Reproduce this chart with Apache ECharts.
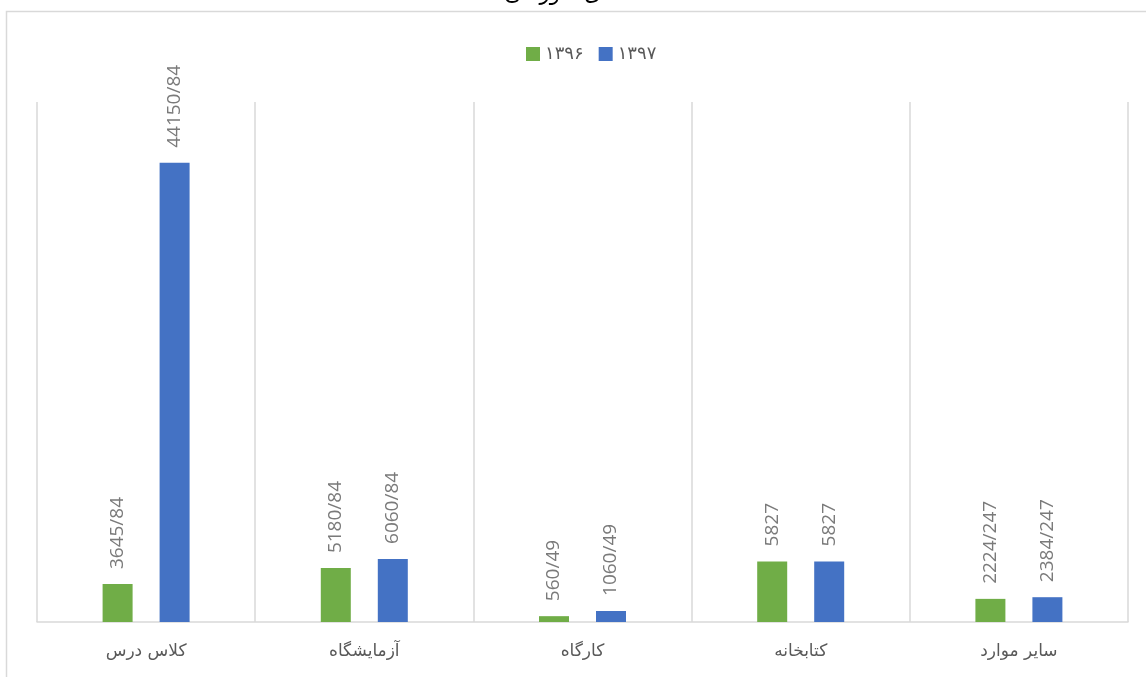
<!DOCTYPE html>
<html>
<head>
<meta charset="utf-8">
<script src="https://cdn.jsdelivr.net/npm/echarts@6/dist/echarts.min.js"></script>
<style>
html,body{margin:0;padding:0;background:#fff;}
#c{width:1146px;height:677px;}
</style>
</head>
<body>
<div id="c"></div>
<script>
var titleText = 'مساحت فضاهای آموزشی';
var categories = ['کلاس درس', 'آزمایشگاه', 'کارگاه', 'کتابخانه', 'سایر موارد'];
var seriesNames = ['۱۳۹۶', '۱۳۹۷'];
var values1396 = [3645.84, 5180.84, 560.49, 5827, 2224.247];
var values1397 = [44150.84, 6060.84, 1060.49, 5827, 2384.247];
var labels1396 = ['3645/84', '5180/84', '560/49', '5827', '2224/247'];
var labels1397 = ['44150/84', '6060/84', '1060/49', '5827', '2384/247'];

var chart = echarts.init(document.getElementById('c'), null, {renderer: 'canvas'});
var persianFont = '"DejaVu Sans", sans-serif';
var numFont = '"Open Sans", "Noto Sans", sans-serif';

function mkLabel(arr) {
  return {
    show: true,
    position: 'top',
    rotate: 90,
    align: 'left',
    verticalAlign: 'middle',
    distance: 15,
    color: '#7a7a7a',
    fontFamily: numFont,
    fontSize: 19,
    formatter: function (p) { return arr[p.dataIndex]; }
  };
}

chart.setOption({
  backgroundColor: '#ffffff',
  animation: false,
  title: {
    text: titleText,
    left: 612,
    textAlign: 'center',
    top: -21,
    textStyle: {fontFamily: persianFont, fontSize: 21, fontWeight: 'normal', color: '#000'}
  },
  graphic: [{
    type: 'rect',
    shape: {x: 6.5, y: 11.5, width: 1300, height: 800},
    style: {fill: 'none', stroke: '#d9d9d9', lineWidth: 1.5},
    z: 0
  }],
  legend: {
    data: seriesNames,
    left: 521,
    top: 40,
    itemWidth: 14,
    itemHeight: 14,
    itemGap: 15,
    icon: 'rect',
    textStyle: {fontFamily: persianFont, fontSize: 18, color: '#595959'}
  },
  grid: {left: 37, right: 18, top: 102, bottom: 55, containLabel: false},
  xAxis: {
    type: 'category',
    data: categories,
    axisLine: {lineStyle: {color: '#d9d9d9', width: 1.5}},
    axisTick: {show: false},
    splitLine: {show: true, lineStyle: {color: '#d9d9d9', width: 1.5}},
    axisLabel: {color: '#595959', fontFamily: persianFont, fontSize: 17, margin: 21}
  },
  yAxis: {
    type: 'value',
    min: 0,
    max: 50000,
    show: false,
    splitLine: {show: false}
  },
  series: [
    {
      name: seriesNames[0],
      type: 'bar',
      data: values1396,
      barWidth: 30,
      barGap: '90%',
      itemStyle: {color: '#70ad47'},
      label: mkLabel(labels1396)
    },
    {
      name: seriesNames[1],
      type: 'bar',
      data: values1397,
      barWidth: 30,
      itemStyle: {color: '#4472c4'},
      label: mkLabel(labels1397)
    }
  ]
});
</script>
</body>
</html>
